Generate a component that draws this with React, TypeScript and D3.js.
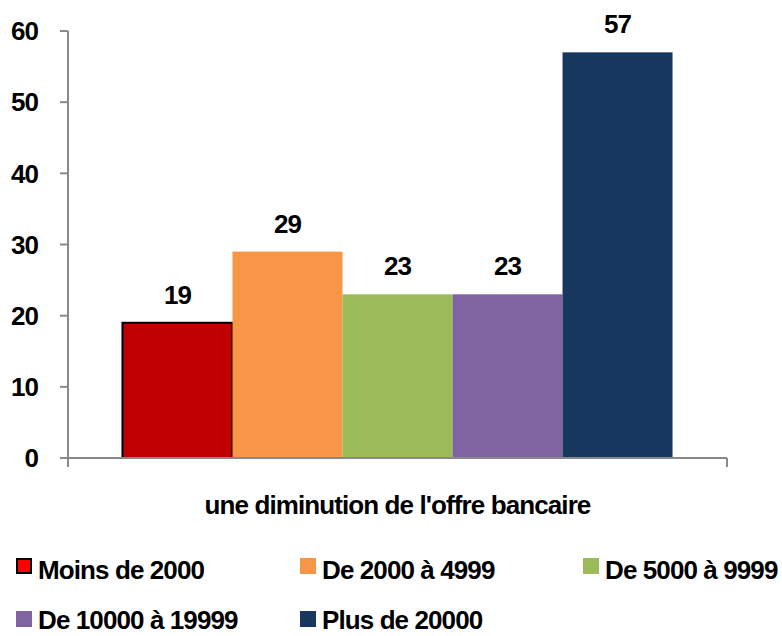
import React from "react";
import * as d3 from "d3";

const category = "une diminution de l'offre bancaire";
const seriesNames = ["Moins de 2000", "De 2000 à 4999", "De 5000 à 9999", "De 10000 à 19999", "Plus de 20000"];
const seriesValues = [19, 29, 23, 23, 57];
const seriesColors = ["#C00000", "#F79646", "#9BBB59", "#8064A2", "#17375E"];
const legendColors = ["#FF0000", "#F79646", "#9BBB59", "#8064A2", "#17375E"];
const yTicks = [0, 10, 20, 30, 40, 50, 60];

const W = 782;
const H = 636;
const font = "'Liberation Sans', Arial, sans-serif";

export default function App() {
  const plot = { left: 68, right: 727, top: 31, bottom: 458 };

  const y = d3.scaleLinear().domain([0, 60]).range([plot.bottom, plot.top]);
  const x0 = d3.scaleBand<string>().domain([category]).range([plot.left, plot.right]).paddingInner(0).paddingOuter(0.099);
  const x1 = d3.scaleBand<string>().domain(seriesNames).range([0, x0.bandwidth()]);

  // legend layout: 3 columns, 2 rows
  const legendCols = [16, 300, 583];
  const legendRows = [558, 611];
  const legendBase = [579, 629];

  const textStyle: React.CSSProperties = { fontFamily: font, fontWeight: 700, fontSize: 26, letterSpacing: -0.9 };

  return (
    <div style={{ position: "absolute", left: 0, top: 0 }}>
      <svg width={W} height={H} style={{ display: "block", background: "#fff" }}>
        {/* bars */}
        {seriesNames.map((s, i) => {
          const bx = (x0(category) ?? 0) + (x1(s) ?? 0);
          const by = y(seriesValues[i]);
          return (
            <g key={s}>
              <rect
                x={bx}
                y={by}
                width={x1.bandwidth()}
                height={plot.bottom - by}
                fill={seriesColors[i]}
                stroke={i === 0 ? "#000" : "none"}
                strokeWidth={i === 0 ? 2 : 0}
              />
              <text x={bx + x1.bandwidth() / 2} y={by - 19} textAnchor="middle" style={textStyle} fill="#000">
                {seriesValues[i]}
              </text>
            </g>
          );
        })}

        {/* axes */}
        <g stroke="#898989" strokeWidth={2} fill="none">
          <line x1={plot.left} x2={plot.left} y1={y(60)} y2={plot.bottom + 9} />
          {yTicks.map((t) => (
            <line key={t} x1={plot.left - 8} x2={plot.left} y1={y(t)} y2={y(t)} />
          ))}
          <line x1={plot.left} x2={plot.right} y1={plot.bottom} y2={plot.bottom} />
          <line x1={plot.right} x2={plot.right} y1={plot.bottom} y2={plot.bottom + 9} />
        </g>
        {yTicks.map((t) => (
          <text key={t} x={38} y={y(t) + 9.3} textAnchor="end" style={textStyle} fill="#000">
            {t}
          </text>
        ))}

        {/* category label */}
        <text x={(plot.left + plot.right) / 2} y={514} textAnchor="middle" style={textStyle} fill="#000">
          {category}
        </text>

        {/* legend */}
        {seriesNames.map((s, i) => {
          const lx = legendCols[i % 3];
          const row = Math.floor(i / 3);
          const ly = legendRows[row];
          return (
            <g key={s}>
              <rect
                x={lx + (i === 0 ? 1 : 0)}
                y={ly + (i === 0 ? 1 : 0)}
                width={i === 0 ? 14 : 16}
                height={i === 0 ? 14 : 16}
                fill={legendColors[i]}
                stroke={i === 0 ? "#000" : "none"}
                strokeWidth={i === 0 ? 2 : 0}
              />
              <text x={lx + 22} y={legendBase[row]} style={textStyle} fill="#000">
                {s}
              </text>
            </g>
          );
        })}
      </svg>
    </div>
  );
}
